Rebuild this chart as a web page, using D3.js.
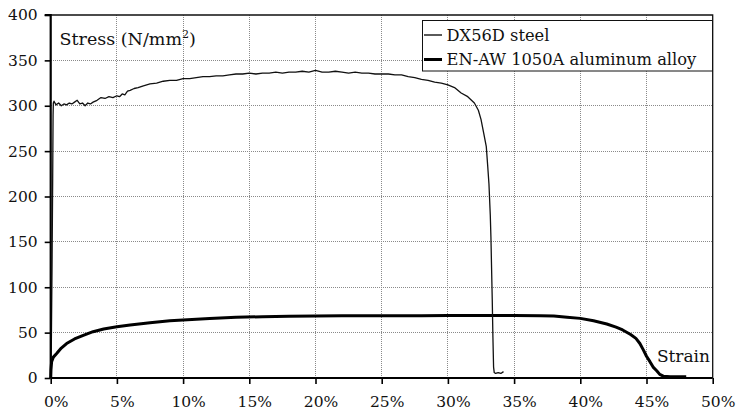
<!DOCTYPE html>
<html>
<head>
<meta charset="utf-8">
<script src="https://cdn.jsdelivr.net/npm/d3@7"></script>
<style>
  html, body { margin: 0; padding: 0; background: #fff; }
  svg { display: block; }
  text { font-family: "DejaVu Serif", serif; fill: #111; }
</style>
</head>
<body>
<svg id="chart" width="738" height="413"></svg>
<script>
// ---- Data (strain in %, stress in N/mm²) ----
const seriesNames = ["DX56D steel", "EN-AW 1050A aluminum alloy"];

const steelStrain = [0,0.05,0.1,0.15,0.18,0.2,0.25,0.4,0.6,0.8,1.0,1.2,1.4,1.6,1.8,2.0,2.2,2.4,2.6,2.8,3.0,3.2,3.5,3.8,4.1,4.4,4.7,5.0,5.2,5.4,5.6,5.8,6.0,6.3,6.6,7.0,7.5,8.0,8.5,9.0,9.5,10.0,10.5,11.0,11.5,12.0,12.5,13.0,13.5,14.0,14.5,15.0,15.5,16,16.5,17,17.5,18,18.5,19,19.5,20,20.5,21,21.5,22,22.5,23,23.5,24,24.5,25,25.5,26,26.5,27,27.5,28,28.5,29,29.5,30,30.5,31,31.5,32,32.3,32.5,32.7,32.9,33.0,33.1,33.2,33.25,33.3,33.35,33.4,33.45,33.5,33.6,33.8,34.0,34.2];
const steelStress = [0,40,120,220,290,303,305,301,303,300,302,301,303,302,304,306,302,303,300,303,302,304,306,309,308,310,309,311,310,313,312,316,317,319,320,322,324,325,327,328,328,330,330,331,332,332,333,333,334,335,335,336,335,336,336,337,336,337,337,338,337,339,337,337,338,337,336,337,336,336,335,335,335,334,334,332,331,329,328,326,325,323,320,314,310,303,295,285,270,255,235,214,180,155,120,86,45,12,6,5,6,5,7];

const aluStrain = [0,0.02,0.07,0.2,0.45,0.8,1.2,1.8,2.46,3.2,4,5,6,7.5,9,10,12,14,16,18,20,22,25,28,30,32,35,37,38,39,40,41,42,42.7,43.2,43.8,44.2,44.5,44.76,45.0,45.26,45.5,45.77,46.0,46.27,46.8,47.5,48.0];
const aluStress  = [0,9,18,23,27,33,38,43,47,51,54,56.5,58.5,61,63,64,65.5,67,67.5,68,68.3,68.5,68.6,68.7,68.8,68.8,69,68.6,68.3,67,65.7,63,59.5,56,52.9,48,43.7,38,31,24,18,12,8,4,2,1.5,1.5,1.5];

const yTicks = [0,50,100,150,200,250,300,350,400];
const xTicks = [0,5,10,15,20,25,30,35,40,45,50];

// ---- Layout ----
const svg = d3.select("#chart");
const x = d3.scaleLinear().domain([0, 50]).range([50.7, 712.7]);
const y = d3.scaleLinear().domain([0, 400]).range([378, 15]);

// grid
const grid = svg.append("g");
grid.selectAll(".gy").data(yTicks.filter(d => d > 0 && d < 400)).enter().append("line")
  .attr("x1", x(0)).attr("x2", x(50)).attr("y1", d => y(d)).attr("y2", d => y(d))
  .attr("stroke", "#8a8a8a").attr("stroke-width", 1).attr("stroke-dasharray", "1,1")
  .attr("shape-rendering", "crispEdges");
grid.selectAll(".gx").data(xTicks.filter(d => d > 0 && d < 50)).enter().append("line")
  .attr("x1", d => x(d)).attr("x2", d => x(d)).attr("y1", y(0)).attr("y2", y(400))
  .attr("stroke", "#8a8a8a").attr("stroke-width", 1).attr("stroke-dasharray", "1,1")
  .attr("shape-rendering", "crispEdges");

// frame top/right
svg.append("path")
  .attr("d", `M${x(0)},${y(400)}H${x(50)}V${y(0)}`)
  .attr("fill", "none").attr("stroke", "#111").attr("stroke-width", 1.3);

// curves
const line = d3.line().x(d => x(d[0])).y(d => y(d[1]));
const steel = steelStrain.map((s, i) => [s, steelStress[i]]);
const alu = aluStrain.map((s, i) => [s, aluStress[i]]);

svg.append("path").datum(alu).attr("d", line)
  .attr("fill", "none").attr("stroke", "#000").attr("stroke-width", 3).attr("stroke-linejoin", "round");
svg.append("path").datum(steel).attr("d", line)
  .attr("fill", "none").attr("stroke", "#111").attr("stroke-width", 1.3).attr("stroke-linejoin", "round");

// axes
const yAxis = d3.axisLeft(y).tickValues(yTicks).tickSize(6).tickPadding(7).tickFormat(d => d);
const gy = svg.append("g").attr("transform", `translate(${x(0)},0)`).call(yAxis);
const xAxis = d3.axisBottom(x).tickValues(xTicks).tickSize(6).tickPadding(12).tickFormat(d => d + "%");
const gx = svg.append("g").attr("transform", `translate(0,${y(0)})`).call(xAxis);

[gy, gx].forEach(g => {
  g.select(".domain").attr("stroke", "#000").attr("stroke-width", 2.2);
  g.selectAll(".tick line").attr("stroke", "#000").attr("stroke-width", 1.6);
  g.selectAll(".tick text").style("font-family", "DejaVu Serif, serif").style("font-size", "15.5px").attr("fill", "#111");
});
gx.selectAll(".tick text").attr("x", 5);
gy.select(".domain").attr("d", `M-6,${y(400)}H0V${y(0)}`);
gx.select(".domain").attr("d", `M${x(0)},0H${x(50)}`);

// axis titles
const st = svg.append("text").attr("x", 59.5).attr("y", 45).style("font-size", "17.5px");
st.append("tspan").text("Stress (N/mm");
st.append("tspan").text("2").attr("dy", -7).style("font-size", "11px");
st.append("tspan").text(")").attr("dy", 7);

svg.append("text").attr("x", 710).attr("y", 362).attr("text-anchor", "end")
  .style("font-size", "17px").text("Strain");

// legend
const lg = svg.append("g");
lg.append("rect").attr("x", 422.5).attr("y", 20.5).attr("width", 290).attr("height", 50.5)
  .attr("fill", "#fff").attr("stroke", "#111").attr("stroke-width", 1);
const lw = [1.3, 3];
seriesNames.forEach((n, i) => {
  const yy = 35 + i * 24.5;
  lg.append("line").attr("x1", 424).attr("x2", 442).attr("y1", yy).attr("y2", yy)
    .attr("stroke", "#000").attr("stroke-width", lw[i]);
  lg.append("text").attr("x", 446.5).attr("y", yy + 5.5).style("font-size", "16.3px").text(n);
});
</script>
</body>
</html>
